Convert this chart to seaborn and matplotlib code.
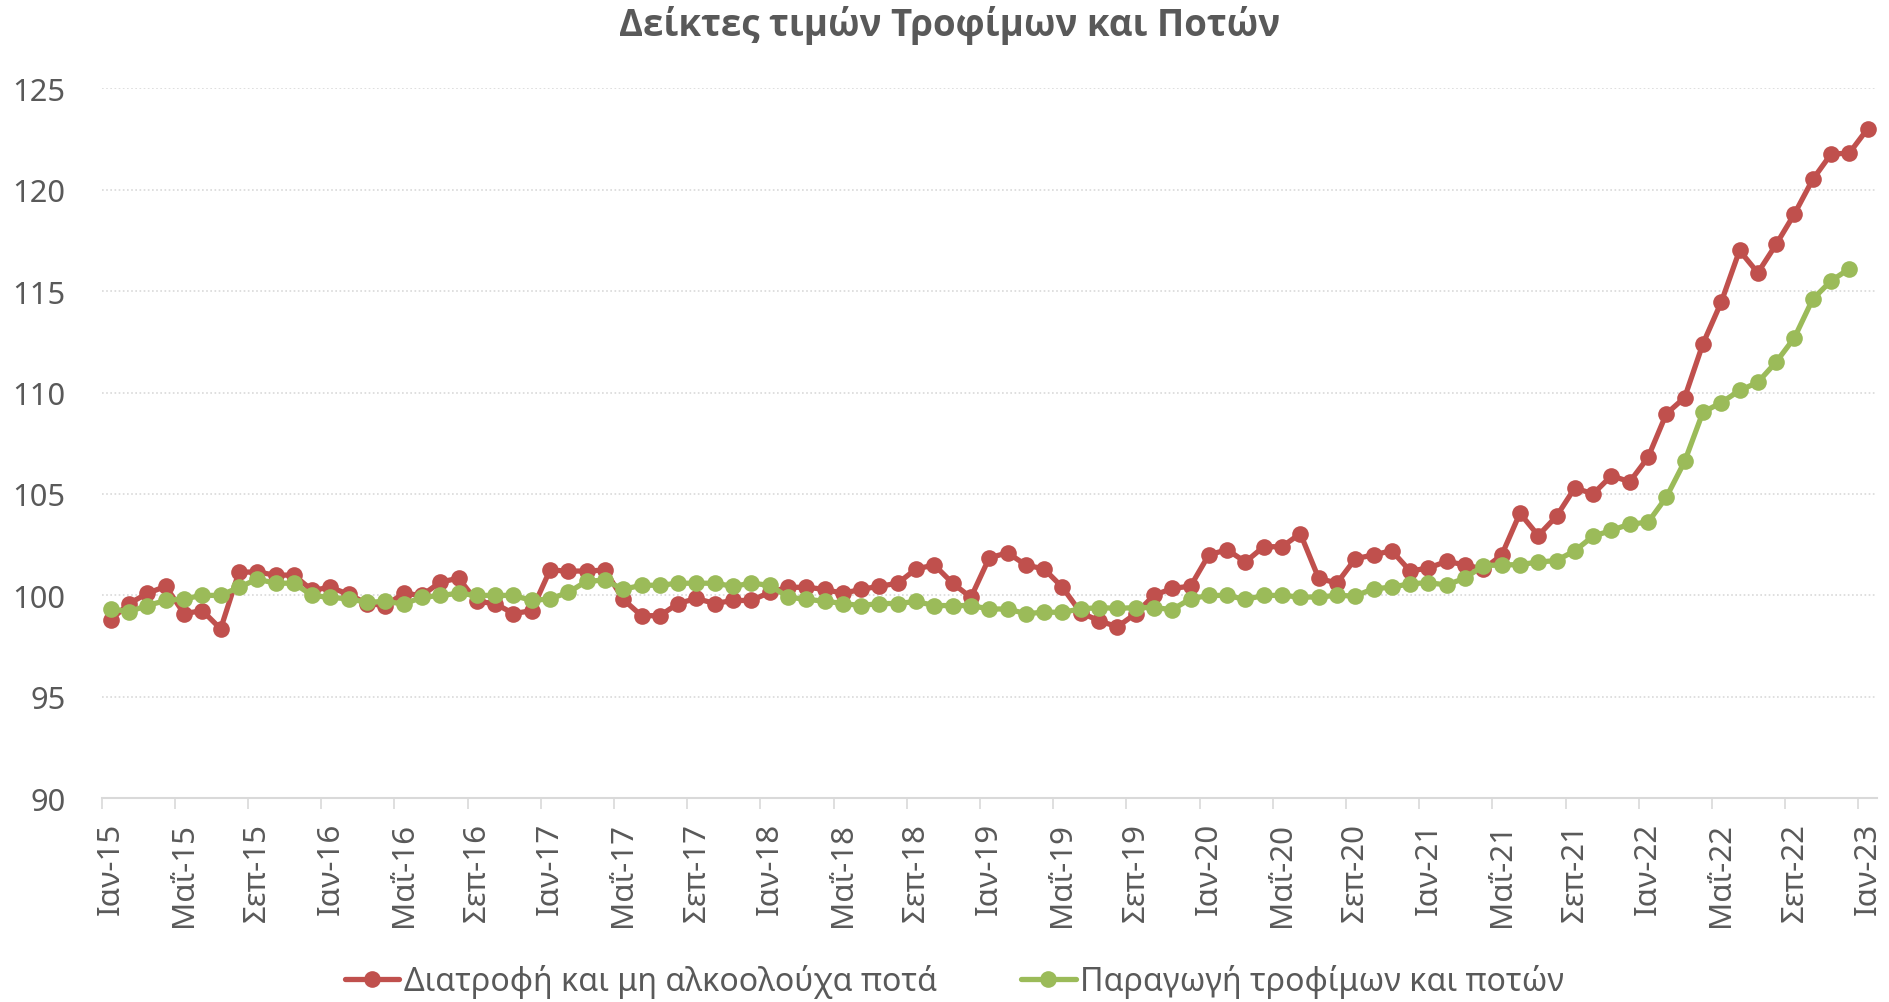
import matplotlib
matplotlib.use("Agg")
import matplotlib.pyplot as plt
import seaborn as sns
import pandas as pd
import numpy as np

# ---- data ----
series_names = ["Διατροφή και μη αλκοολούχα ποτά", "Παραγωγή τροφίμων και ποτών"]

months_gr = ["Ιαν", "Φεβ", "Μαρ", "Απρ", "Μαΐ", "Ιουν", "Ιουλ", "Αυγ", "Σεπ", "Οκτ", "Νοε", "Δεκ"]

diatrofi = [
    98.8, 99.6, 100.1, 100.45, 99.1, 99.25, 98.35, 101.15, 101.15, 101.0, 101.0, 100.25,
    100.4, 100.05, 99.6, 99.5, 100.1, 100.0, 100.65, 100.85, 99.7, 99.6, 99.1, 99.25,
    101.25, 101.2, 101.2, 101.25, 99.8, 99.0, 99.0, 99.6, 99.85, 99.6, 99.75, 99.75,
    100.15, 100.4, 100.4, 100.3, 100.1, 100.3, 100.45, 100.6, 101.3, 101.5, 100.6, 99.9,
    101.85, 102.1, 101.5, 101.3, 100.4, 99.15, 98.75, 98.45, 99.1, 100.0, 100.35, 100.45,
    102.0, 102.25, 101.65, 102.4, 102.4, 103.05, 100.85, 100.6, 101.8, 102.0, 102.2, 101.2,
    101.35, 101.68, 101.5, 101.3, 101.98, 104.05, 102.95, 103.9, 105.3, 105.0, 105.9, 105.6,
    106.8, 108.95, 109.75, 112.4, 114.45, 117.0, 115.9, 117.3, 118.8, 120.5, 121.75, 121.8,
    123.0,
]

paragogi = [
    99.33, 99.2, 99.5, 99.75, 99.83, 100.0, 100.0, 100.4, 100.8, 100.6, 100.6, 100.0,
    99.9, 99.83, 99.66, 99.7, 99.58, 99.9, 100.0, 100.1, 100.0, 100.0, 100.0, 99.75,
    99.83, 100.15, 100.7, 100.75, 100.3, 100.5, 100.5, 100.6, 100.6, 100.6, 100.45, 100.6,
    100.5, 99.92, 99.8, 99.72, 99.6, 99.5, 99.6, 99.6, 99.7, 99.5, 99.5, 99.5,
    99.33, 99.33, 99.1, 99.17, 99.17, 99.33, 99.4, 99.36, 99.4, 99.4, 99.3, 99.83,
    100.0, 100.0, 99.8, 100.0, 100.0, 99.92, 99.92, 100.0, 99.97, 100.33, 100.4, 100.58,
    100.62, 100.52, 100.85, 101.47, 101.5, 101.52, 101.64, 101.72, 102.2, 102.92, 103.2, 103.52,
    103.6, 104.84, 106.6, 109.03, 109.5, 110.1, 110.5, 111.5, 112.7, 114.6, 115.5, 116.1,
]

title_text = "Δείκτες τιμών Τροφίμων και Ποτών"
start_year = 2015
n_months = len(diatrofi)
month_labels = [f"{months_gr[i % 12]}-{(start_year + i // 12) % 100:02d}" for i in range(n_months)]

colors = ["#C0504D", "#9BBB59"]
text_color = "#595959"
grid_color = "#D9D9D9"

# ---- build long table ----
df = pd.concat([
    pd.DataFrame({"idx": np.arange(len(diatrofi)), "value": diatrofi, "series": series_names[0]}),
    pd.DataFrame({"idx": np.arange(len(paragogi)), "value": paragogi, "series": series_names[1]}),
], ignore_index=True)

sns.set_theme(style="white")
BODY = ["Noto Sans", "DejaVu Sans"]
TITLE = ["Open Sans", "DejaVu Sans"]
plt.rcParams["font.family"] = BODY

fig = plt.figure(figsize=(18.9, 10.03), dpi=100)
renderer = fig.canvas.get_renderer()


def fit_size(text, target_px, family, weight="normal"):
    """font size (pt) so that the rendered text width equals target_px"""
    t = fig.text(0, 0, text, fontsize=20, family=family, fontweight=weight)
    w = t.get_window_extent(renderer=renderer).width
    t.remove()
    return 20 * target_px / w


xtick_size = fit_size("Ιαν-15", 92, BODY)
ytick_size = fit_size("125", 53, BODY)
legend_size = fit_size(series_names[0], 533, BODY)
title_size = fit_size(title_text, 659, TITLE, "bold")

ax = fig.add_axes([0.0538, 0.2031, 0.9392, 0.708])

sns.lineplot(
    data=df, x="idx", y="value", hue="series", hue_order=series_names,
    palette=colors, marker="o", markersize=12, markeredgewidth=0,
    linewidth=3.8, ax=ax, legend=True,
)

ax.set_xlim(-0.5, n_months - 0.5)
ax.set_ylim(90, 125)
ax.set_yticks(np.arange(90, 126, 5))
ax.set_xlabel("")
ax.set_ylabel("")

# x ticks: labels every 4 months at points, tick marks at category boundaries
lab_pos = np.arange(0, n_months, 4)
ax.set_xticks(lab_pos)
ax.set_xticklabels([month_labels[i] for i in lab_pos], rotation=90)
ax.set_xticks(lab_pos - 0.5, minor=True)
ax.tick_params(axis="x", which="major", length=0, pad=17, labelsize=xtick_size, labelcolor=text_color)
ax.tick_params(axis="x", which="minor", length=7.7, width=1.2, color=grid_color, bottom=True)
ax.tick_params(axis="y", length=0, pad=26, labelsize=ytick_size, labelcolor=text_color)

ax.grid(False)
ax.yaxis.grid(True, color=grid_color, linestyle=(0, (1, 1.5)), linewidth=1.2)
ax.set_axisbelow(True)
for s in ["top", "right", "left"]:
    ax.spines[s].set_visible(False)
ax.spines["bottom"].set_color(grid_color)
ax.spines["bottom"].set_linewidth(1.5)
ax.spines["bottom"].set_zorder(0.5)

fig.text(0.5026, 0.975, title_text, ha="center", va="center",
         fontsize=title_size, fontweight="bold", color=text_color, family=TITLE)

handles, labels = ax.get_legend_handles_labels()
if ax.legend_:
    ax.legend_.remove()
leg = fig.legend(handles, labels, loc="center", bbox_to_anchor=(0.505, 0.021),
                 ncol=2, frameon=False, fontsize=legend_size, handlelength=1.7,
                 handletextpad=0.15, columnspacing=2.6)
for t in leg.get_texts():
    t.set_color(text_color)

fig.savefig("out.png", dpi=100)
